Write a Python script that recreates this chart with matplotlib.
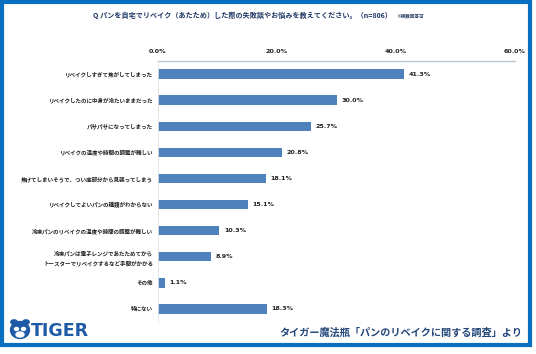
import matplotlib.pyplot as plt
from matplotlib.patches import Rectangle, Circle, Ellipse

plt.rcParams['font.family'] = ['Noto Sans CJK JP', 'DejaVu Sans']

labels = [
    'リベイクしすぎて焦がしてしまった',
    'リベイクしたのに中身が冷たいままだった',
    'パサパサになってしまった',
    'リベイクの温度や時間の調整が難しい',
    '焦げてしまいそうで、つい底部分から見張ってしまう',
    'リベイクしてよいパンの種類がわからない',
    '冷凍パンのリベイクの温度や時間の調整が難しい',
    '冷凍パンは電子レンジであたためてから\nトースターでリベイクするなど手間がかかる',
    'その他',
    '特にない',
]
values = [41.3, 30.0, 25.7, 20.8, 18.1, 15.1, 10.3, 8.9, 1.1, 18.3]
ticks = [0, 20, 40, 60]

W, H = 536, 354
fig = plt.figure(figsize=(W / 100, H / 100), dpi=100)
fig.patch.set_facecolor('white')

# blue frame
frame = Rectangle((2 / W, 1 - 345 / H), 528 / W, 343 / H, transform=fig.transFigure,
                  fill=False, edgecolor='#0b6fbf', linewidth=3.0)
fig.patches.append(frame)

ax = fig.add_axes([158 / W, 1 - 322 / H, (515 - 158) / W, (322 - 61) / H])
y = list(range(len(labels)))
ax.barh(y, values, height=0.36, color='#4f81bd')
ax.set_xlim(0, 60)
ax.set_ylim(len(labels) - 0.5, -0.5)

ax.xaxis.tick_top()
ax.set_xticks(ticks)
ax.set_xticklabels([f'{t:.1f}%' for t in ticks], family='DejaVu Sans',
                   fontweight='bold', fontsize=4.6, color='#222222')
ax.set_yticks(y)
ax.set_yticklabels(labels, fontsize=4.0, fontweight='bold', color='#222222',
                   linespacing=1.7)
ax.tick_params(axis='both', length=0)
ax.tick_params(axis='x', pad=5)
ax.tick_params(axis='y', pad=3.5)

for s in ['right', 'bottom']:
    ax.spines[s].set_visible(False)
ax.spines['top'].set_color('#b7c9d6')
ax.spines['top'].set_linewidth(1.0)
ax.spines['left'].set_color('#e0e0e0')
ax.spines['left'].set_linewidth(0.6)

for yi, v in zip(y, values):
    ax.annotate(f'{v:.1f}%', (v, yi), xytext=(3.5, 0), textcoords='offset points',
                va='center', ha='left', fontsize=4.6, fontweight='bold',
                family='DejaVu Sans', color='#222222')

# title
fig.text(392 / W, 1 - 15 / H,
         'Q パンを自宅でリベイク（あたため）した際の失敗談やお悩みを教えてください。（n=806）',
         ha='right', va='center', fontsize=5.1, fontweight='bold', color='#1f3864')
fig.text(396 / W, 1 - 16 / H, '※複数回答可', ha='left', va='center',
         fontsize=3.3, fontweight='bold', color='#1f3864')

# footer
fig.text(522 / W, 1 - 333 / H, 'タイガー魔法瓶「パンのリベイクに関する調査」より',
         ha='right', va='center', fontsize=7.3, fontweight='bold', color='#24477a')

# logo
logo_blue = '#1f5aa6'
cx, cy = 20 / W, 1 - 330 / H
fig.patches.append(Ellipse((cx, cy), 19 / W, 17 / H, transform=fig.transFigure,
                           color=logo_blue))
for dx in (-6, 6):
    fig.patches.append(Circle(((20 + dx) / W, 1 - 322 / H), 3.2 / W,
                              transform=fig.transFigure, color=logo_blue))
for dx in (-3.5, 3.5):
    fig.patches.append(Ellipse(((20 + dx) / W, 1 - 329 / H), 4 / W, 3 / H,
                               transform=fig.transFigure, color='white'))
fig.patches.append(Ellipse((cx, 1 - 334.5 / H), 8 / W, 5 / H,
                           transform=fig.transFigure, color='white'))
fig.text(31 / W, 1 - 331 / H, 'TIGER', ha='left', va='center', fontsize=12.5,
         fontweight='heavy', family='DejaVu Sans', color=logo_blue)

fig.savefig('out.png', dpi=100)
